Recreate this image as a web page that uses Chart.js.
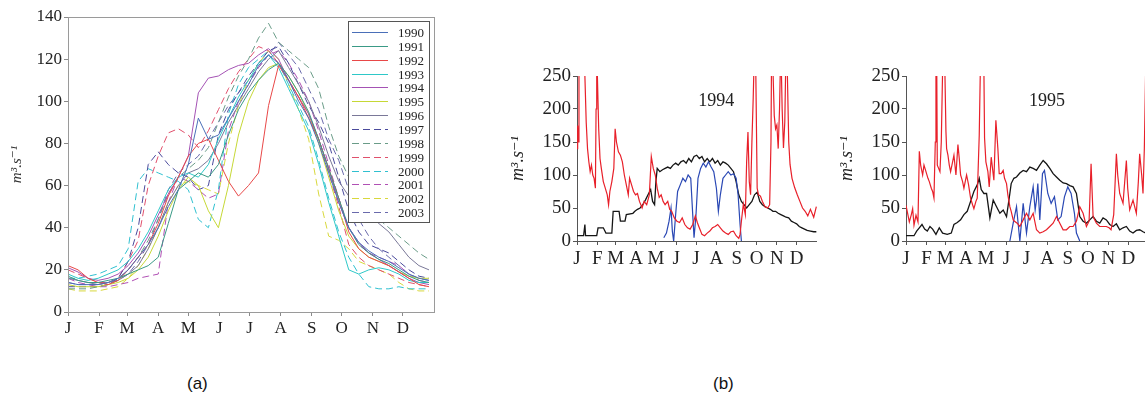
<!DOCTYPE html>
<html><head><meta charset="utf-8">
<script src="https://cdn.jsdelivr.net/npm/chart.js@4.4.0/dist/chart.umd.min.js"></script>
<style>
html,body{margin:0;padding:0;background:#fff;overflow:hidden;}
#wrap{position:relative;width:1145px;height:398px;overflow:hidden;background:#fff;}
canvas{position:absolute;}
.cap{position:absolute;font-family:"Liberation Sans",Arial,sans-serif;font-size:17px;color:#111;line-height:20px;}
</style></head><body>
<div id="wrap">
<canvas id="ca" style="left:0px;top:0px" width="445" height="340"></canvas>
<canvas id="cb" style="left:500px;top:55px" width="317" height="210"></canvas>
<canvas id="cc" style="left:832px;top:55px" width="317" height="210"></canvas>
<div class="cap" style="left:187px;top:374px">(a)</div>
<div class="cap" style="left:713px;top:374px">(b)</div>
</div>
<script>
// ---------- shared axis data ----------
const monthStarts=[0,31,59,90,120,151,181,212,243,273,304,334];
const monthLabels=['J','F','M','A','M','J','J','A','S','O','N','D'];
const yTicksA=[0,20,40,60,80,100,120,140];
const yTicksB=[0,50,100,150,200,250];
const yTitle='m\u00B3.s\u207B\u00B9';

// ---------- panel (a): mean daily flow by year (sampled every 10 days) ----------
const daysA=[0,10,20,30,40,50,60,70,80,90,100,110,120,130,140,150,160,170,180,190,200,210,220,230,240,250,260,270,280,290,300,310,320,330,340,350,360];
const years=['1990','1991','1992','1993','1994','1995','1996','1997','1998','1999','2000','2001','2002','2003'];
const q1990=[14,13,13,13,14,16,20,26,32,40, 50,58,70,92,82,84,92,100,108,117, 122,118,110,100,92,80,66,52,40,33, 29,26,24,21,18,16,15];
const q1991=[17,15,14,14,15,16,18,20,22,26, 42,58,62,66,64,70,84,96,104,110, 115,118,112,104,95,82,68,54,40,32, 28,25,23,20,17,15,14];
const q1992=[22,20,16,14,13,15,20,26,32,42, 55,64,74,80,82,72,62,55,60,66, 98,117,110,102,92,82,68,54,38,30, 26,24,22,19,16,13,12];
const q1993=[18,16,15,16,18,20,24,30,38,48, 58,64,66,64,70,82,92,102,110,118, 122,116,106,96,86,70,52,36,20,18, 20,21,20,18,15,14,14];
const q1994=[21,19,16,15,16,18,22,28,36,46, 56,64,74,104,111,112,115,117,118,122, 125,120,110,102,94,82,68,52,40,33, 28,25,22,19,16,14,13];
const q1995=[13,12,12,12,13,14,16,20,26,36, 48,58,64,60,48,40,60,84,100,110, 116,118,112,104,94,80,64,48,36,30, 26,24,22,19,17,16,16];
const q1996=[16,15,14,13,14,15,18,22,30,40, 52,60,66,68,72,80,90,98,106,114, 120,124,116,108,100,88,74,62,55,50, 46,42,38,32,26,22,20];
const q1997=[12,12,12,12,13,16,24,40,70,76, 70,66,64,58,60,84,96,104,112,118, 124,126,118,108,98,90,80,64,48,38, 32,30,28,24,20,17,16];
const q1998=[11,11,11,12,13,15,20,26,34,44, 56,64,68,72,78,90,102,112,120,130, 137,128,124,120,116,106,88,74,64,56, 48,44,40,36,32,28,25];
const q1999=[20,18,16,14,14,16,24,34,60,74, 85,87,84,78,86,96,106,114,120,126, 124,118,110,102,94,82,66,50,32,26, 22,20,18,16,14,13,12];
const q2000=[16,16,17,18,20,22,30,62,68,66, 64,62,58,44,40,58,94,108,116,120, 124,118,108,98,88,72,54,38,26,18, 12,11,11,12,11,11,11];
const q2001=[16,14,13,12,12,13,14,16,17,18, 52,64,62,58,54,56,86,100,108,116, 122,124,118,110,100,86,70,54,40,32, 28,26,24,22,18,15,14];
const q2002=[11,10,10,10,11,12,16,22,30,40, 52,60,62,60,58,56,80,98,110,118, 124,120,108,96,82,56,36,34,30,24, 22,20,18,14,11,10,10];
const q2003=[14,13,13,13,14,15,18,24,32,44, 58,66,70,74,82,90,98,104,110,116, 122,128,122,116,106,96,82,72,58,44, 36,30,26,22,18,16,15];
const seriesA=[q1990,q1991,q1992,q1993,q1994,q1995,q1996,q1997,q1998,q1999,q2000,q2001,q2002,q2003];
const colorsA=['#4a6fb8','#3a9a86','#e84848','#2ec8c8','#a452b4','#c6d836','#7a7898','#4a4a9c','#6a9c88','#e0506c','#30c0d0','#b050b4','#d8d83c','#6a6aac'];
const dashedA=[false,false,false,false,false,false,false,true,true,true,true,true,true,true];

// ---------- panel (b): 1994 ----------
const red94Days=[0,1,2,3,6,10,12,14,16,18, 20,22,24,26,28,29,30,31,33,35, 37,40,43,46,48,50,53,56,58,60, 63,66,69,72,75,78,80,83,86,89,
 92,95,99,102,106,110,113,116,119,122, 125,128,131,134,138,141,144,148,152,156, 160,164,168,172,176,180,183,186,190,194,
 198,202,206,210,214,218,222,226,230,234, 238,242,246,248,250,253,256,258,260,262, 264,266,268,270,272,274,276,279,282,286,
 290,293,295,296,298,300,302,304,306,308, 310,312,314,316,318,320,322,324,327,331, 335,339,343,347,351,355,360,364];
const red94=[140,175,150,260,400,300,250,180,140,120, 105,115,100,95,80,200,300,250,170,125, 110,90,80,70,55,75,90,110,170,150, 135,130,120,100,85,70,95,85,75,70,
 72,60,50,60,55,70,128,110,100,80, 66,70,60,55,60,48,45,35,30,28, 35,25,20,18,25,38,28,20,10,8,
 12,15,20,22,25,20,15,12,10,14, 15,8,4,10,30,56,40,120,165,90, 70,150,217,300,250,80,70,68,60,52,
 50,55,150,300,260,190,170,176,140,200, 300,200,141,180,300,250,150,116,95,81, 70,60,50,45,38,48,36,52];
const black94Days=[0,10,12,13,30,32,40,44,53,55, 64,66,73,75,85,88,92,96,100,104, 108,112,115,118,120,122,126,130,134,138,
 142,146,150,154,158,162,166,170,174,178, 182,186,190,194,198,202,206,210,214,218, 222,226,230,234,238,242,246,250,254,258,
 262,266,270,274,278,282,286,290,294,298, 302,306,310,314,318,322,326,330,334,338, 342,346,350,355,360,364];
const black94=[8,8,25,8,8,20,20,12,12,45, 45,30,30,40,42,45,48,50,55,62, 70,78,60,55,90,110,105,108,110,112,
 110,115,118,115,120,122,118,125,120,128, 130,125,128,120,125,120,125,118,122,115, 120,118,115,110,105,90,70,60,55,50,
 55,60,70,74,60,55,52,50,48,45, 45,42,40,38,36,35,30,28,26,22, 20,18,16,15,14,14];
const blue94Days=[132,136,140,143,145,147,150,153,157,161, 165,169,173,176,178,181,184,188,192,196, 200,204,208,212,215,218,222,226,230,234, 238,242,245,248,250];
const blue94=[5,12,30,50,15,0,40,75,85,95, 90,100,95,40,5,40,95,110,118,112, 120,112,105,80,45,70,95,100,105,100, 102,95,70,25,0];

// ---------- panel (b): 1995 ----------
const red95Days=[0,2,5,8,10,12,15,18,20,22, 25,27,30,33,35,38,40,42,44,45, 46,47,49,51,53,55,57,58,60,61, 63,65,67,70,72,75,78,80,82,85,
 87,91,94,97,100,102,105,107,110,112, 115,117,118,120,123,125,128,132,135,138, 140,143,146,148,151,153,156,158,161,163,
 167,171,176,181,186,191,196,201,206,211, 216,221,226,231,236,241,246,251,256,261, 266,271,275,278,281,286,291,296,301,305,
 308,312,316,318,321,326,331,333,336,341, 346,349,351,354,356,358,360,364];
const red95=[54,44,29,40,49,24,39,29,136,115, 100,115,105,95,90,80,75,65,150,260, 300,115,110,105,150,260,300,280,166,140, 130,115,105,120,130,100,146,125,100,90,
 80,100,85,65,55,49,60,65,160,280, 300,260,156,120,105,82,127,92,183,140, 102,102,107,95,87,70,52,45,32,30,
 27,22,32,42,32,42,17,12,14,17, 22,27,37,27,17,17,22,22,30,52, 42,22,30,117,37,27,22,22,22,20,
 17,40,132,100,72,57,122,80,47,62, 42,90,132,100,72,140,260,300];
const black95Days=[0,6,12,16,20,24,28,32,36,40, 45,50,55,62,68,72,77,82,87,92, 97,102,107,110,113,117,121,126,131,136,
 141,146,151,156,158,162,166,171,176,181, 186,191,196,201,206,211,216,221,226,231, 236,241,246,251,256,261,266,271,276,281,
 286,291,296,301,306,311,316,321,326,331, 336,341,346,351,356,360,364];
const black95=[8,8,8,15,20,25,18,15,22,18, 10,20,12,10,12,25,28,32,40,45, 60,75,85,95,78,72,72,35,62,52,
 42,47,37,72,87,95,97,103,107,105, 112,110,107,115,122,117,110,102,97,92, 88,87,84,82,72,37,30,27,32,37,
 30,27,35,32,25,22,26,17,20,22, 15,12,16,17,14,12,14];
const blue95Days=[156,161,166,171,176,181,186,191,194,196, 198,201,205,208,213,218,223,228,233,238, 243,248,253,256,261];
const blue95=[0,27,52,0,57,12,52,82,47,62, 87,32,102,107,72,57,67,32,37,67, 82,72,42,12,0];

// ---------- helpers ----------
const pts=(xs,ys)=>ys.map((v,i)=>({x:xs[i],y:v}));
const serif="'Liberation Serif', 'DejaVu Serif', serif";
Chart.defaults.font.family=serif;
Chart.defaults.color='#222';

const frame={id:'frame',afterDatasetsDraw(chart){
  const {ctx,chartArea:a}=chart;ctx.save();ctx.strokeStyle='#9a9a9a';ctx.lineWidth=1;
  ctx.strokeRect(Math.round(a.left)+0.5,Math.round(a.top)+0.5,Math.round(a.right-a.left),Math.round(a.bottom-a.top));ctx.restore();}};

const legendBox={id:'legendBox',afterDraw(chart){
  const {ctx,chartArea:a}=chart;const x0=Math.round(a.right)-86,y0=Math.round(a.top)+4,w=81,h=201;
  ctx.save();ctx.fillStyle='#fff';ctx.fillRect(x0,y0,w,h);ctx.strokeStyle='#555';ctx.lineWidth=1;ctx.strokeRect(x0+0.5,y0+0.5,w,h);
  ctx.font='13px '+serif;ctx.textBaseline='middle';ctx.textAlign='left';
  chart.data.datasets.forEach((ds,i)=>{const y=Math.round(y0+11+i*13.85)+0.5;
    ctx.strokeStyle=ds.borderColor;ctx.lineWidth=1.2;ctx.setLineDash(ds.borderDash||[]);
    ctx.beginPath();ctx.moveTo(x0+4,y);ctx.lineTo(x0+40,y);ctx.stroke();ctx.setLineDash([]);
    ctx.fillStyle='#222';ctx.fillText(ds.label,x0+50,y+1);});
  ctx.restore();}};

const yearLabel={id:'yearLabel',afterDraw(chart,args,opts){
  if(!opts||!opts.text)return;const {ctx,chartArea:a}=chart;ctx.save();
  ctx.font='18px '+serif;ctx.fillStyle='#222';ctx.textAlign='center';ctx.textBaseline='middle';
  ctx.fillText(opts.text,a.left+(a.right-a.left)*0.58,a.top+25);ctx.restore();}};

function monthAxis(fontSize,color,tickLen,pad,h){
  return {type:'linear',min:0,max:365,
    afterBuildTicks:s=>{s.ticks=monthStarts.map(v=>({value:v}));},
    afterFit:s=>{s.height=h;},
    ticks:{autoSkip:false,maxRotation:0,padding:pad,color:'#222',font:{family:serif,size:fontSize},
      callback:v=>monthLabels[monthStarts.indexOf(v)]},
    grid:{drawOnChartArea:false,tickLength:tickLen,color:color},
    border:{color:color,width:1}};
}

// ---------- chart (a) ----------
new Chart(document.getElementById('ca'),{
  type:'line',
  data:{datasets:years.map((y,i)=>({label:y,data:pts(daysA,seriesA[i]),borderColor:colorsA[i],
    borderDash:dashedA[i]?[7,4]:[],borderWidth:1,pointRadius:0,tension:0,fill:false}))},
  options:{responsive:false,animation:false,devicePixelRatio:1,
    layout:{padding:{top:17,right:11,left:0,bottom:0}},
    plugins:{legend:{display:false},tooltip:{enabled:false}},
    scales:{
      x:monthAxis(17,'#8a8a8a',4,2,28),
      y:{min:0,max:140,
        afterBuildTicks:s=>{s.ticks=[0,10,20,30,40,50,60,70,80,90,100,110,120,130,140].map(v=>({value:v}));},
        afterFit:s=>{s.width=68;},
        ticks:{padding:2,color:'#222',font:{family:serif,size:17},callback:v=>yTicksA.includes(v)?String(v):''},
        grid:{drawOnChartArea:false,tickLength:4,color:'#8a8a8a'},
        border:{color:'#8a8a8a'},
        title:{display:true,text:yTitle,color:'#333',font:{family:serif,size:15,style:'italic'},padding:{top:8,bottom:0}}}
    }},
  plugins:[frame,legendBox]
});

// ---------- charts (b) ----------
function flowChart(id,label,rd,rv,bd,bv,ud,uv,titlePad,yw){
  new Chart(document.getElementById(id),{
    type:'line',
    data:{datasets:[
      {label:'red',data:pts(rd,rv),borderColor:'#e8202a',borderWidth:1.2,pointRadius:0,tension:0},
      {label:'blue',data:pts(ud,uv),borderColor:'#2a48b4',borderWidth:1.2,pointRadius:0,tension:0},
      {label:'black',data:pts(bd,bv),borderColor:'#151515',borderWidth:1.3,pointRadius:0,tension:0}
    ]},
    options:{responsive:false,animation:false,devicePixelRatio:1,
      layout:{padding:{top:21,right:0,left:0,bottom:0}},
      plugins:{legend:{display:false},tooltip:{enabled:false},yearLabel:{text:label}},
      scales:{
        x:monthAxis(19,'#555',4,3,24),
        y:{min:0,max:250,
          afterBuildTicks:s=>{s.ticks=yTicksB.map(v=>({value:v}));},
          afterFit:s=>{s.width=yw;},
          ticks:{padding:2,color:'#222',font:{family:serif,size:19}},
          grid:{drawOnChartArea:false,tickLength:4,color:'#555'},
          border:{color:'#555'},
          title:{display:true,text:yTitle,color:'#222',font:{family:serif,size:18,style:'italic'},padding:{top:titlePad,bottom:0}}}
      }},
    plugins:[yearLabel]
  });
}
flowChart('cb','1994',red94Days,red94,black94Days,black94,blue94Days,blue94,7,77);
flowChart('cc','1995',red95Days,red95,black95Days,black95,blue95Days,blue95,4,74);
</script>
</body></html>
